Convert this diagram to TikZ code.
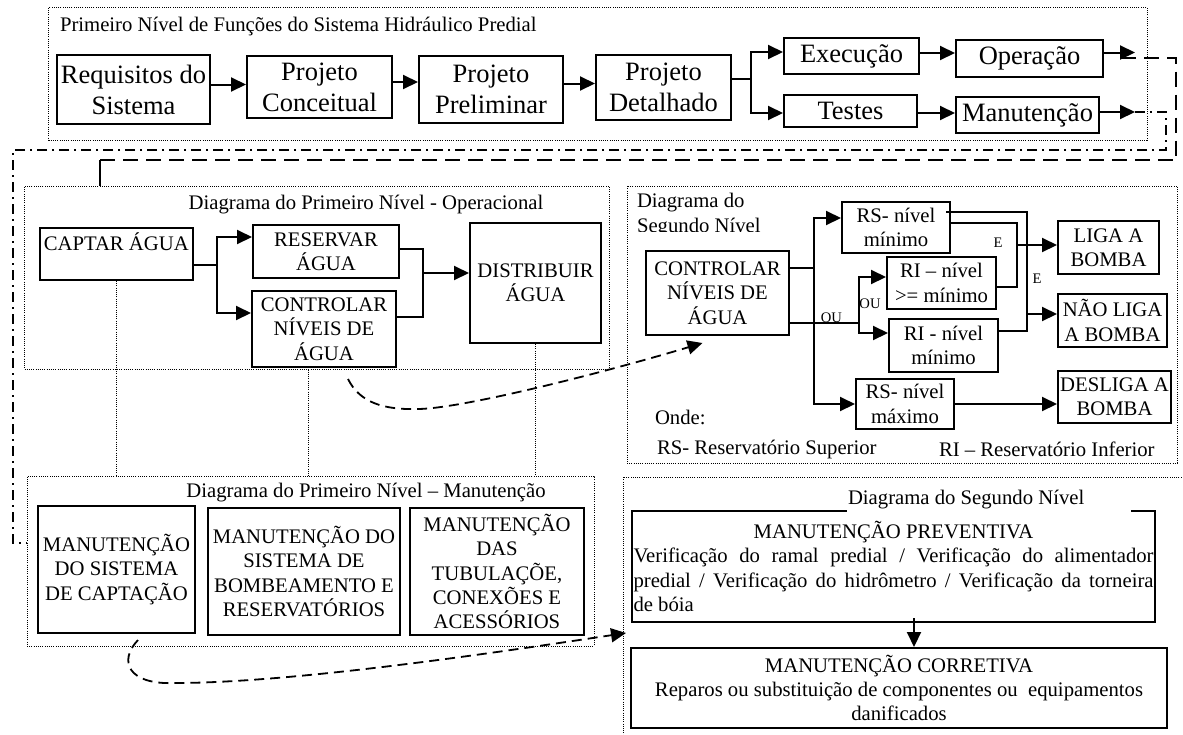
\documentclass[tikz,border=0pt]{standalone}
\usepackage{fontspec}
\setmainfont{Liberation Serif}
\usepackage{tikz}
\usetikzlibrary{arrows.meta,fit,calc}
\newcommand\bigfont{\fontsize{13.25}{15.5}\selectfont}
\newcommand\boxfont{\fontsize{10.35}{12.15}\selectfont}
\newcommand\tagfont{\fontsize{7.3}{9}\selectfont}

\begin{document}
\begin{tikzpicture}[x=0.5pt,y=-0.5pt,line width=1pt,>={Triangle[length=7.5pt,width=7pt]},
  dims/.style 2 args={minimum width=#1*.5pt,minimum height=#2*.5pt},
  box/.style={draw,inner sep=0pt,align=center,font=\boxfont},
  bigbox/.style={box,font=\bigfont},
  textbox/.style={draw,inner sep=0pt,font=\boxfont},
  frame/.style={draw,line width=.5pt,dash pattern=on .5pt off .6pt,inner sep=0pt},
  lbl/.style={inner sep=0pt,font=\boxfont},
  tag/.style={inner sep=0pt,font=\tagfont},
  link/.style={dash pattern=on 7.5pt off 4pt},
  dashdot/.style={line width=.8pt,dash pattern=on 5pt off 2.5pt on 1pt off 2.5pt},
  curvy/.style={line width=.9pt,dash pattern=on 5pt off 3pt}]
\useasboundingbox (0,0) rectangle (1183,734);
\node[frame,fit={(48.5,7.5) (1147,140)}] (topframe) {};
\node[frame,fit={(24.5,186) (609,369)}] (opframe) {};
\node[frame,fit={(627,186) (1177,463)}] (sframe) {};
\node[frame,fit={(27,476) (594,646)}] (manframe) {};
\node[frame,fit={(623,477) (1186,750)}] (mframe) {};

\node[lbl,anchor=west] (title1) at (59,27) {Primeiro Nível de Funções do Sistema Hidráulico Predial};
\node[bigbox,dims={153}{69}] (req) at (133.5,89.5) {Requisitos do\\Sistema};
\node[bigbox,dims={145}{62}] (conc) at (319.5,87) {Projeto\\Conceitual};
\node[bigbox,dims={144}{67}] (prel) at (491,89.5) {Projeto\\Preliminar};
\node[bigbox,dims={135}{65}] (det) at (663.5,87.5) {Projeto\\Detalhado};
\node[bigbox,dims={135}{36}] (exe) at (851.5,56) {Execução};
\node[bigbox,dims={147}{37}] (ope) at (1029.5,58.5) {Operação};
\node[bigbox,dims={133}{32}] (tes) at (850.5,111) {Testes};
\node[bigbox,dims={143}{36}] (man) at (1027.5,115) {Manutenção};
\draw[->] ($(req.east)+(0,-5)$) coordinate (r1) -- (r1 -| conc.west);
\draw[->] ($(conc.east)+(0,-5)$) coordinate (r2) -- (r2 -| prel.west);
\draw[->] ($(prel.east)+(0,-6)$) coordinate (r3) -- (r3 -| det.west);
\coordinate (fork1) at (751,79);
\draw (det.east |- fork1) -- (fork1);
\draw[->] (fork1) |- ($(exe.west)+(0,-4)$);
\draw[->] (fork1) |- ($(tes.west)+(0,2)$);
\draw[->] ($(exe.east)+(0,-3)$) coordinate (r4) -- (r4 -| ope.west);
\draw[->] ($(tes.east)+(0,2)$) coordinate (r5) -- (r5 -| man.west);
\draw[->] ($(ope.east)+(0,-6)$) -- ++(31,0) coordinate (opeend);
\draw[->] ($(man.east)+(0,-3)$) -- ++(35,0) coordinate (manend);
\coordinate (drop1) at (100,160);
\draw[link] ($(opeend)+(-14,5)$) -| (1176,160) -- (drop1);
\draw (drop1) -- (drop1 |- opframe.north);
\coordinate (drop2) at (13,543);
\draw[dashdot] (manend) -| (1166,150) -| (drop2) -- (drop2 -| manframe.west);

\node[lbl] (title2) at (366,205) {Diagrama do Primeiro Nível - Operacional};
\node[box,dims={153.5}{52}] (captar) at (116.25,254) {CAPTAR ÁGUA\\~};
\node[box,dims={146}{53}] (res) at (326,251.5) {RESERVAR\\ÁGUA};
\node[box,dims={144}{76}] (ctrl) at (324,329) {CONTROLAR\\NÍVEIS DE\\ÁGUA};
\node[box,dims={131}{120}] (dist) at (535.5,283) {DISTRIBUIR\\ÁGUA};
\coordinate (fork2) at (217,265);
\draw (captar.east |- fork2) -- (fork2);
\draw[->] (fork2) |- ($(res.west)+(0,-14.5)$);
\draw[->] (fork2) |- ($(ctrl.west)+(0,-16)$);
\coordinate (join2) at (423,273);
\draw ($(res.east)+(0,-2.5)$) -| (join2);
\draw ($(ctrl.east)+(0,-12)$) -| (join2);
\draw[->] (join2) -- (join2 -| dist.west);
\draw[frame] (captar.south) -- (captar.south |- manframe.north);
\draw[frame] ($(opframe.south -| ctrl.south)+(-16,0)$) coordinate (c1) -- (c1 |- manframe.north);
\draw[frame] (dist.south) -- (dist.south |- manframe.north);

\begin{scope}
\clip (630,190) rectangle (840,231);
\node[lbl,anchor=west,align=left] (title3) at (636,215) {Diagrama do\\Segundo Nível};
\end{scope}
\node[box,dims={143}{84}] (ctl2) at (717.5,293) {CONTROLAR\\NÍVEIS DE\\ÁGUA};
\node[box,dims={108}{51}] (rsmin) at (896,227.5) {RS- nível\\mínimo};
\node[box,dims={109}{52}] (rige) at (941.5,283) {RI – nível\\>= mínimo};
\node[box,dims={109}{53}] (rimin) at (943.5,345.5) {RI - nível\\mínimo};
\node[box,dims={98}{50}] (rsmax) at (905,404) {RS- nível\\máximo};
\node[box,dims={101}{53}] (liga) at (1108.5,247.5) {LIGA A\\BOMBA};
\node[box,dims={109}{53}] (naoliga) at (1112.5,320.5) {NÃO LIGA\\A BOMBA};
\node[box,dims={113}{52}] (desliga) at (1114.5,397) {DESLIGA A\\BOMBA};
\draw ($(ctl2.east)+(0,-25)$) -- ++(24,0) coordinate (fork3);
\draw[->] (fork3) |- ($(rsmin.west)+(0,-9.5)$);
\draw[->] (fork3) |- (rsmax);
\draw ($(ctl2.east)+(0,30)$) -- ++(69,0) coordinate (fork4) node[tag,pos=.6,yshift=2.5pt] (ou1) {OU};
\draw[->] (fork4) |- ($(rige.west)+(0,-6)$);
\draw[->] (fork4) |- ($(rimin.west)+(0,-12.5)$);
\node[tag] (ou2) at (870,304) {OU};
\coordinate (and1) at (1017,245);
\draw ($(rsmin.east)+(0,-4.5)$) -| (and1) |- ($(rige.east)+(0,4)$);
\draw[->] (and1) -- (and1 -| liga.west);
\node[tag] (e1) at (998,243) {E};
\coordinate (and2) at (1027,314);
\draw ($(rsmin.east)+(-5,-15.5)$) -| (and2) |- ($(rimin.east)+(0,-14.5)$);
\draw[->] (and2) -- (and2 -| naoliga.west);
\node[tag] (e2) at (1037,279) {E};
\draw[->] (rsmax) -- (rsmax -| desliga.west);
\node[lbl,anchor=west] (onde) at (654,417) {Onde:};
\node[lbl,anchor=west] (legrs) at (656,449) {RS- Reservatório Superior};
\node[lbl,anchor=west] (legri) at (938,449) {RI – Reservatório Inferior};
\coordinate (tip1) at ($(ctl2.south)+(-15,7)$);
\draw[curvy,->] ($(ctrl.south)+(24,11)$) .. controls +(12,24) and +(-35,1) .. (419,409) .. controls +(45,-1) and +(-100,30) .. (tip1);

\begin{scope}
\clip (30,478) rectangle (590,501);
\node[lbl] (title4) at (366,493) {Diagrama do Primeiro Nível – Manutenção};
\end{scope}
\node[box,dims={157}{127}] (mbox1) at (116.5,569.5) {MANUTENÇÃO\\DO SISTEMA\\DE CAPTAÇÃO};
\node[box,dims={192}{127}] (mbox2) at (304,571.5) {MANUTENÇÃO DO\\SISTEMA DE\\BOMBEAMENTO E\\RESERVATÓRIOS};
\node[box,dims={174}{127}] (mbox3) at (497,571.5) {MANUTENÇÃO\\DAS\\TUBULAÇÕE,\\CONEXÕES E\\ACESSÓRIOS};
\coordinate (tip2) at (626,633);
\draw[curvy,->] ($(mbox1.south)+(21.5,6)$) .. controls +(-20,21) and +(-47,2) .. (175,683) .. controls +(120,0) and +(-120,18) .. (tip2);

\node[textbox,dims={523}{111},text width=260pt,align=justify] (prev) at (893.5,566.5) {\parindent=0pt\makebox[\hsize]{MANUTENÇÃO PREVENTIVA}\par Verificação do ramal predial / Verificação do alimentador\linebreak predial / Verificação do hidrômetro / Verificação da torneira\linebreak de bóia};
\begin{scope}
\clip (845,480) rectangle (1131,512);
\fill[white] (847,486) rectangle (1131,512);
\node[lbl,anchor=west] (title5) at (847,500) {Diagrama do Segundo Nível};
\end{scope}
\node[box,dims={536}{80}] (corr) at (899,688) {MANUTENÇÃO CORRETIVA\\Reparos ou substituição de componentes ou~ equipamentos\\danificados};
\coordinate (drop3) at ($(prev.south)+(20.5,-5)$);
\draw[->] (drop3) -- (drop3 |- corr.north);
\end{tikzpicture}
\end{document}
